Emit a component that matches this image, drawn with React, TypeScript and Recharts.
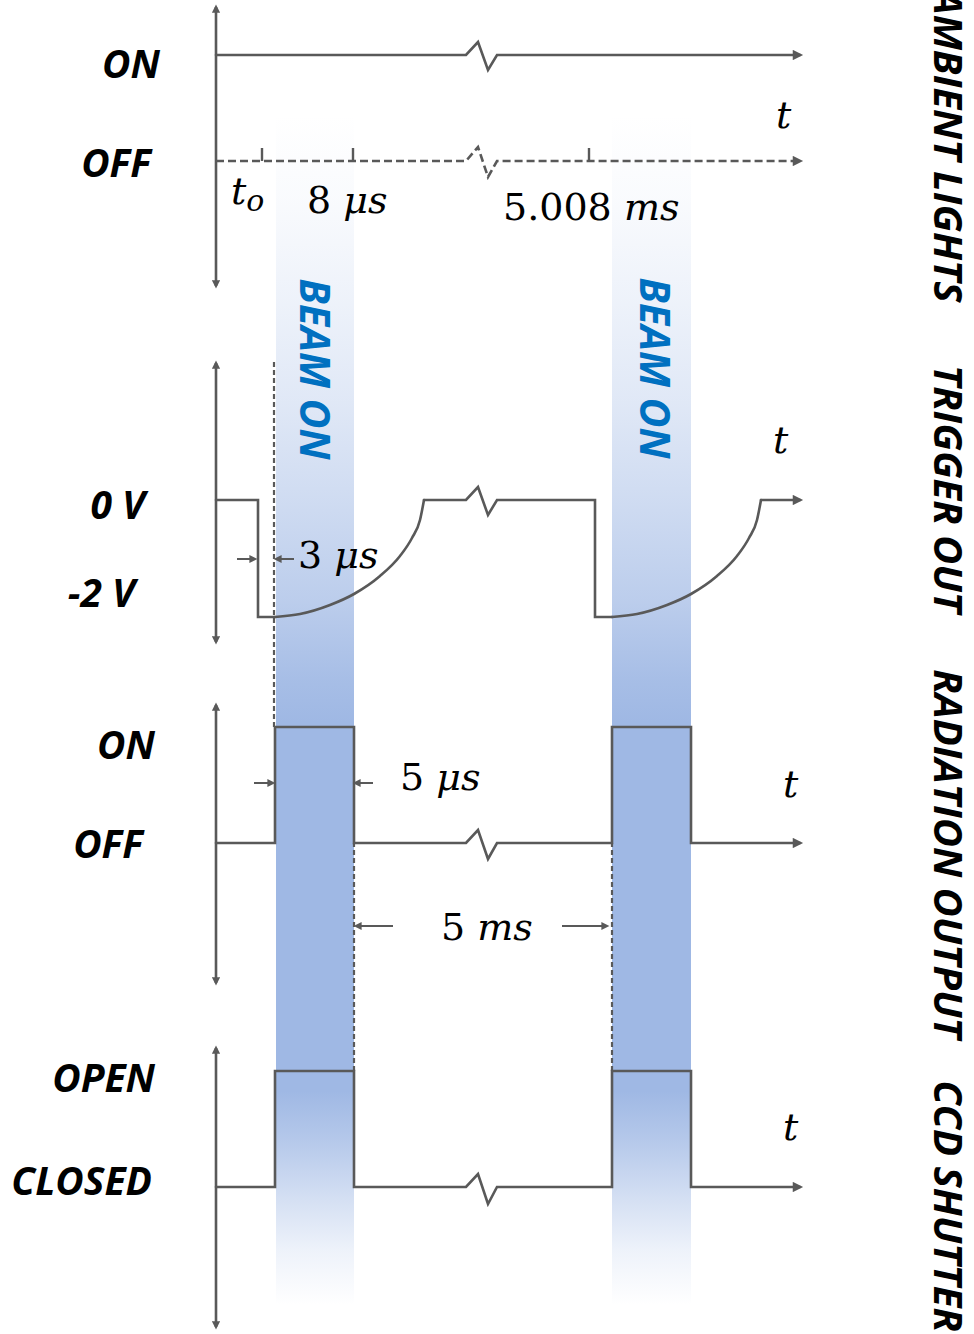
import React from "react";
import { ComposedChart, Line, Scatter, XAxis, YAxis, ReferenceArea } from "recharts";

// Diagram units: x is schematic time along the four panels, y is a shared vertical scale
// that stacks the four signal panels (ambient, trigger, radiation, CCD).
const W = 974;
const H = 1334;
const X_DOMAIN: [number, number] = [-21.6, 75.8];
const Y_DOMAIN: [number, number] = [0, 133.4];

type P = [number, number];

// vertical panel axes (x = 0), [bottom, top]
const panelAxes: P[] = [
  [104.8, 132.7],
  [69.2, 97.1],
  [35.1, 62.9],
  [0.7, 28.6],
];

// beam-on windows (start, end) and their vertical extent
const beams: P[] = [
  [6.0, 13.8],
  [39.6, 47.5],
];
const beamSpan: P = [2.9, 121.9];

const ambientOn: P[] = [[0, 127.9], [25.0, 127.9], [26.2, 129.2], [27.2, 126.4], [28.1, 127.9], [58.4, 127.9]];
const ambientOff: P[] = [[0, 117.3], [25.0, 117.3], [26.2, 118.7], [27.2, 115.7], [28.1, 117.3], [58.4, 117.3]];
// tick marks on the OFF time line: t0, 8 μs, 5.008 ms
const tickTimes = [4.6, 13.7, 37.3];
const tickSpan: P = [117.3, 118.6];

// trigger out: straight pieces and the two recovery curves
const triggerStepA: P[] = [[0, 83.4], [4.2, 83.4], [4.2, 71.7], [5.9, 71.7]];
const triggerCurveA: P[] = [
  [5.9, 71.7], [8.4, 72.0], [11.4, 72.9], [13.8, 74.0], [16.4, 75.8],
  [18.4, 77.8], [19.6, 79.6], [20.4, 81.4], [20.8, 83.4],
];
const triggerStepB: P[] = [
  [20.8, 83.4], [25.0, 83.4], [26.2, 84.7], [27.2, 81.9], [28.1, 83.4],
  [37.9, 83.4], [37.9, 71.7], [39.6, 71.7],
];
const triggerCurveB: P[] = [
  [39.6, 71.7], [42.1, 72.0], [45.1, 72.9], [47.5, 74.0], [50.1, 75.8],
  [52.1, 77.8], [53.3, 79.6], [54.1, 81.4], [54.5, 83.4],
];
const triggerTail: P[] = [[54.5, 83.4], [58.4, 83.4]];

const radiationOutput: P[] = [
  [0, 49.1], [5.9, 49.1], [5.9, 60.7], [13.8, 60.7], [13.8, 49.1],
  [25.0, 49.1], [26.2, 50.4], [27.2, 47.5], [28.1, 49.1],
  [39.6, 49.1], [39.6, 60.7], [47.5, 60.7], [47.5, 49.1], [58.4, 49.1],
];

const ccdShutter: P[] = [
  [0, 14.7], [5.9, 14.7], [5.9, 26.3], [13.8, 26.3], [13.8, 14.7],
  [25.0, 14.7], [26.2, 16.0], [27.2, 13.0], [28.1, 14.7],
  [39.6, 14.7], [39.6, 26.3], [47.5, 26.3], [47.5, 14.7], [58.4, 14.7],
];

// dashed guide lines: [x, yFrom, yTo]
const guides: [number, number, number][] = [
  [5.8, 60.7, 97.2],
  [13.8, 26.3, 49.1],
  [39.6, 26.3, 49.1],
];

// dimension arrows: [xFrom, xTo, y]
const dimArrows: [number, number, number][] = [
  [2.1, 3.9, 77.5],
  [7.8, 6.0, 77.5],
  [3.8, 5.7, 55.1],
  [15.7, 13.9, 55.1],
  [17.7, 14.0, 40.8],
  [34.6, 39.1, 40.8],
];

const levelLabels = [
  { x: -5.6, y: 125.6, text: "ON" },
  { x: -6.5, y: 115.7, text: "OFF" },
  { x: -7.1, y: 81.5, text: "0 V" },
  { x: -8.1, y: 72.7, text: "-2 V" },
  { x: -6.1, y: 57.5, text: "ON" },
  { x: -7.3, y: 47.6, text: "OFF" },
  { x: -6.1, y: 24.2, text: "OPEN" },
  { x: -6.4, y: 13.9, text: "CLOSED" },
];

const mathLabels = [
  { x: 56.0, y: 120.6, num: "", unit: "t", sub: "" },
  { x: 1.5, y: 113.0, num: "", unit: "t", sub: "o" },
  { x: 9.1, y: 112.1, num: "8", unit: "μs", sub: "" },
  { x: 28.7, y: 111.4, num: "5.008", unit: "ms", sub: "" },
  { x: 55.7, y: 88.1, num: "", unit: "t", sub: "" },
  { x: 8.2, y: 76.6, num: "3", unit: "μs", sub: "" },
  { x: 18.4, y: 54.4, num: "5", unit: "μs", sub: "" },
  { x: 56.7, y: 53.7, num: "", unit: "t", sub: "" },
  { x: 22.5, y: 39.4, num: "5", unit: "ms", sub: "" },
  { x: 56.7, y: 19.4, num: "", unit: "t", sub: "" },
];

const beamLabels = [
  { x: 8.4, y: 96.5, text: "BEAM ON" },
  { x: 42.4, y: 96.6, text: "BEAM ON" },
];

const signalNames = [
  { x: 71.8, y: 118.8, text: "AMBIENT LIGHTS" },
  { x: 71.8, y: 84.5, text: "TRIGGER OUT" },
  { x: 71.8, y: 48.0, text: "RADIATION OUTPUT" },
  { x: 71.8, y: 12.8, text: "CCD SHUTTER" },
];

const INK = "#595959";
const BEAM = "#9FB8E4";
const SANS = "'Open Sans', 'DejaVu Sans', sans-serif";
const SERIF = "'DejaVu Serif', serif";

const toData = (p: P[]) => p.map(([x, y]) => ({ x, y }));

const LevelText = (props: any) => (
  <text x={props.cx} y={props.cy} textAnchor="end" fontFamily={SANS} fontWeight={700}
    fontStyle="italic" fontSize={39} fill="#000">
    {props.payload.text}
  </text>
);

const MathText = (props: any) => {
  const { num, unit, sub } = props.payload;
  return (
    <text x={props.cx} y={props.cy} fontFamily={SERIF} fontSize={38} fill="#000">
      {num ? <tspan>{num + "\u00A0"}</tspan> : null}
      <tspan fontStyle="italic">{unit}</tspan>
      {sub ? <tspan fontStyle="italic" fontSize={30} dy={7}>{sub}</tspan> : null}
    </text>
  );
};

const RotatedText = (color: string, size: number) => (props: any) => (
  <text x={props.cx} y={props.cy} transform={`rotate(90 ${props.cx} ${props.cy})`}
    textAnchor="middle" fontFamily={SANS} fontWeight={700} fontStyle="italic"
    fontSize={size} fill={color}>
    {props.payload.text}
  </text>
);

const signalLine = (pts: P[], key: string, curve: "linear" | "monotone", arrow: boolean) => (
  <Line key={key} data={toData(pts)} dataKey="y" type={curve} stroke={INK} strokeWidth={2.6}
    strokeLinecap="round" dot={false} isAnimationActive={false}
    markerEnd={arrow ? "url(#ahMain)" : undefined} />
);

export default function App() {
  return (
    <div style={{ position: "absolute", left: 0, top: 0, width: W, height: H, background: "#fff" }}>
      <svg width={0} height={0} style={{ position: "absolute" }}>
        <defs>
          <marker id="ahMain" viewBox="0 0 10 10" refX="7" refY="5" markerWidth="4.6"
            markerHeight="4" orient="auto-start-reverse" markerUnits="strokeWidth">
            <path d="M0,0 L10,5 L0,10 z" fill={INK} />
          </marker>
          <marker id="ahAxis" viewBox="0 0 10 10" refX="7" refY="5" markerWidth="3.4"
            markerHeight="3.1" orient="auto-start-reverse" markerUnits="strokeWidth">
            <path d="M0,0 L10,5 L0,10 z" fill={INK} />
          </marker>
          <marker id="ahDim" viewBox="0 0 10 10" refX="7" refY="5" markerWidth="4.2"
            markerHeight="4" orient="auto-start-reverse" markerUnits="strokeWidth">
            <path d="M0,0 L10,5 L0,10 z" fill={INK} />
          </marker>
          <linearGradient id="beamFade" x1="0" y1="0" x2="0" y2="1">
            <stop offset="0" stopColor={BEAM} stopOpacity={0} />
            <stop offset="0.07" stopColor={BEAM} stopOpacity={0.06} />
            <stop offset="0.155" stopColor={BEAM} stopOpacity={0.18} />
            <stop offset="0.24" stopColor={BEAM} stopOpacity={0.32} />
            <stop offset="0.324" stopColor={BEAM} stopOpacity={0.5} />
            <stop offset="0.408" stopColor={BEAM} stopOpacity={0.7} />
            <stop offset="0.475" stopColor={BEAM} stopOpacity={0.92} />
            <stop offset="0.51" stopColor={BEAM} stopOpacity={1} />
            <stop offset="0.82" stopColor={BEAM} stopOpacity={1} />
            <stop offset="0.86" stopColor={BEAM} stopOpacity={0.78} />
            <stop offset="0.91" stopColor={BEAM} stopOpacity={0.45} />
            <stop offset="0.954" stopColor={BEAM} stopOpacity={0.18} />
            <stop offset="1" stopColor={BEAM} stopOpacity={0} />
          </linearGradient>
        </defs>
      </svg>
      <ComposedChart width={W} height={H} margin={{ top: 0, right: 0, bottom: 0, left: 0 }}>
        <XAxis type="number" dataKey="x" domain={X_DOMAIN} hide allowDataOverflow />
        <YAxis type="number" domain={Y_DOMAIN} hide allowDataOverflow />

        {beams.map(([a, b], i) => (
          <ReferenceArea key={`beam-${i}`} x1={a} x2={b} y1={beamSpan[0]} y2={beamSpan[1]}
            fill="url(#beamFade)" fillOpacity={1} stroke="none" />
        ))}

        {panelAxes.map(([lo, hi], i) => (
          <Line key={`axis-${i}`} data={toData([[0, lo], [0, hi]])} dataKey="y" type="linear"
            stroke={INK} strokeWidth={2.6} dot={false} isAnimationActive={false}
            markerStart="url(#ahAxis)" markerEnd="url(#ahAxis)" />
        ))}

        {guides.map(([x, a, b], i) => (
          <Line key={`guide-${i}`} data={toData([[x, a], [x, b]])} dataKey="y" type="linear"
            stroke={INK} strokeWidth={2.2} strokeDasharray="5 3" dot={false} isAnimationActive={false} />
        ))}

        {tickTimes.map((x, i) => (
          <Line key={`tick-${i}`} data={toData([[x, tickSpan[0]], [x, tickSpan[1]]])} dataKey="y"
            type="linear" stroke={INK} strokeWidth={2.4} dot={false} isAnimationActive={false} />
        ))}

        {signalLine(ambientOn, "ambient-on", "linear", true)}
        <Line data={toData(ambientOff)} dataKey="y" type="linear" stroke={INK} strokeWidth={2.6}
          strokeDasharray="8 4" dot={false} isAnimationActive={false} markerEnd="url(#ahMain)" />

        {signalLine(triggerStepA, "trig-a", "linear", false)}
        {signalLine(triggerCurveA, "trig-ca", "monotone", false)}
        {signalLine(triggerStepB, "trig-b", "linear", false)}
        {signalLine(triggerCurveB, "trig-cb", "monotone", false)}
        {signalLine(triggerTail, "trig-tail", "linear", true)}

        {signalLine(radiationOutput, "radiation", "linear", true)}
        {signalLine(ccdShutter, "ccd", "linear", true)}

        {dimArrows.map(([a, b, y], i) => (
          <Line key={`dim-${i}`} data={toData([[a, y], [b, y]])} dataKey="y" type="linear"
            stroke={INK} strokeWidth={2} dot={false} isAnimationActive={false}
            markerEnd="url(#ahDim)" />
        ))}

        <Scatter data={levelLabels} dataKey="y" isAnimationActive={false} shape={LevelText} />
        <Scatter data={mathLabels} dataKey="y" isAnimationActive={false} shape={MathText} />
        <Scatter data={beamLabels} dataKey="y" isAnimationActive={false}
          shape={RotatedText("#0070C0", 41)} />
        <Scatter data={signalNames} dataKey="y" isAnimationActive={false}
          shape={RotatedText("#000", 40)} />
      </ComposedChart>
    </div>
  );
}
